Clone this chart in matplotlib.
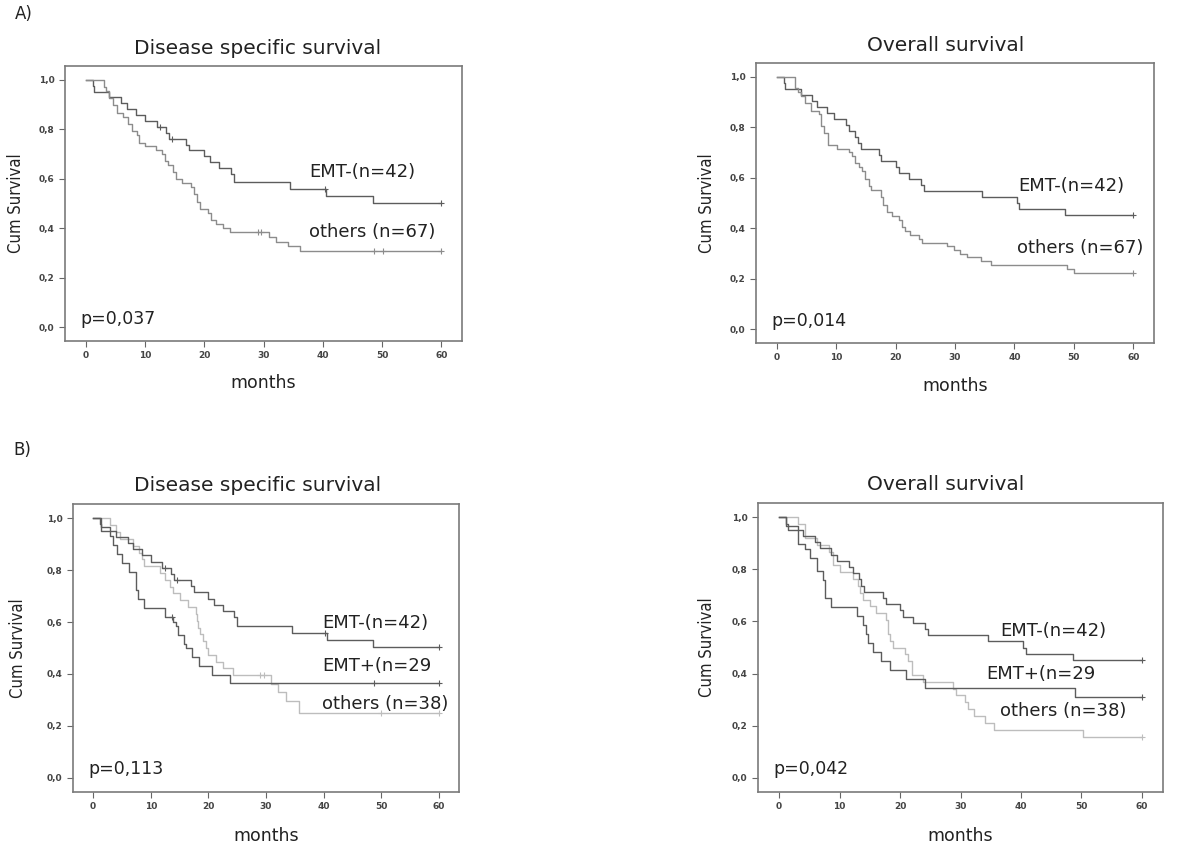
import matplotlib
matplotlib.use("Agg")
import matplotlib.pyplot as plt

plt.rcParams["font.family"] = ["DejaVu Sans"]

# ---- data (months, cumulative survival after each step) ----
# disease specific survival
dss_emtneg_t = [0, 1.2, 1.4, 4.0, 6.0, 7.0, 8.5, 10.0, 12.0, 13.5, 14.0, 17.0, 17.5, 20.0, 21.0, 22.5, 24.5, 25.0, 34.5, 40.6, 48.5]
dss_emtneg_s = [1.0, 0.976, 0.952, 0.929, 0.905, 0.881, 0.857, 0.833, 0.810, 0.786, 0.762, 0.738, 0.714, 0.690, 0.667, 0.643, 0.619, 0.585, 0.557, 0.530, 0.502]
dss_emtneg_cens = [12.5, 14.5, 40.3, 60]

dss_oth67_t = [0, 3.0, 3.5, 4.0, 4.6, 5.2, 6.3, 7.2, 7.8, 8.6, 9.0, 10.0, 11.9, 12.8, 13.3, 13.9, 14.7, 15.3, 16.2, 17.8, 18.2, 18.7, 19.2, 20.6, 21.2, 22.0, 23.2, 24.3, 31.0, 32.1, 34.1, 36.1]
dss_oth67_s = [1.0, 0.970, 0.955, 0.925, 0.896, 0.866, 0.851, 0.821, 0.791, 0.776, 0.746, 0.731, 0.716, 0.701, 0.672, 0.657, 0.627, 0.597, 0.582, 0.567, 0.537, 0.507, 0.478, 0.463, 0.433, 0.418, 0.403, 0.383, 0.365, 0.345, 0.327, 0.309]
dss_oth67_cens = [29.0, 29.6, 48.7, 50.1, 60]

dss_emtpos_t = [0, 1.3, 3.0, 3.4, 4.1, 5.0, 6.2, 7.4, 7.7, 8.9, 12.5, 13.9, 14.3, 14.8, 15.7, 16.2, 17.1, 18.3, 20.6, 23.7]
dss_emtpos_s = [1.0, 0.966, 0.931, 0.897, 0.862, 0.828, 0.793, 0.724, 0.690, 0.655, 0.621, 0.600, 0.583, 0.552, 0.517, 0.500, 0.466, 0.431, 0.397, 0.365]
dss_emtpos_cens = [13.6, 48.8, 60]

dss_oth38_t = [0, 3.0, 3.9, 4.7, 7.0, 7.9, 8.5, 8.9, 11.6, 12.5, 13.4, 13.9, 15.1, 16.5, 17.8, 18.0, 18.2, 18.5, 19.1, 19.5, 20.0, 21.4, 22.6, 24.3, 30.9, 32.1, 33.5, 35.8]
dss_oth38_s = [1.0, 0.974, 0.947, 0.921, 0.895, 0.868, 0.842, 0.816, 0.789, 0.763, 0.737, 0.711, 0.684, 0.658, 0.632, 0.605, 0.579, 0.553, 0.526, 0.500, 0.474, 0.447, 0.421, 0.395, 0.362, 0.329, 0.296, 0.250]
dss_oth38_cens = [29.0, 29.6, 50.0, 60]

# overall survival
os_emtneg_t = [0, 1.2, 1.4, 4.0, 5.9, 6.8, 8.5, 9.6, 11.6, 12.2, 13.2, 13.6, 14.1, 17.2, 17.6, 20.0, 20.5, 22.2, 24.2, 24.7, 34.5, 40.4, 40.8, 48.6]
os_emtneg_s = [1.0, 0.976, 0.952, 0.929, 0.905, 0.881, 0.857, 0.833, 0.810, 0.786, 0.762, 0.738, 0.714, 0.690, 0.667, 0.643, 0.619, 0.595, 0.571, 0.548, 0.524, 0.500, 0.476, 0.452]
os_emtneg_cens = [60]

os_oth67_t = [0, 3.1, 3.6, 4.0, 4.8, 5.7, 7.1, 7.5, 8.0, 8.6, 10.2, 12.2, 12.6, 13.2, 13.8, 14.4, 14.9, 15.5, 15.9, 17.5, 17.9, 18.6, 19.4, 20.5, 21.1, 21.6, 22.5, 24.0, 24.4, 28.7, 29.8, 30.9, 32.0, 34.3, 36.0, 48.9, 50.0]
os_oth67_s = [1.0, 0.955, 0.940, 0.925, 0.896, 0.866, 0.851, 0.806, 0.776, 0.731, 0.716, 0.701, 0.687, 0.657, 0.642, 0.627, 0.597, 0.567, 0.552, 0.522, 0.493, 0.463, 0.448, 0.433, 0.403, 0.388, 0.373, 0.358, 0.343, 0.328, 0.313, 0.298, 0.284, 0.269, 0.254, 0.239, 0.224]
os_oth67_cens = [60]

os_emtpos_t = [0, 1.2, 3.1, 4.2, 5.1, 6.2, 7.3, 7.6, 8.6, 12.8, 13.9, 14.3, 14.7, 15.5, 16.9, 18.3, 21.0, 24.1, 49.0]
os_emtpos_s = [1.0, 0.966, 0.897, 0.879, 0.845, 0.793, 0.759, 0.690, 0.655, 0.621, 0.586, 0.552, 0.517, 0.483, 0.448, 0.414, 0.379, 0.345, 0.310]
os_emtpos_cens = [60]

os_oth38_t = [0, 3.1, 4.2, 6.2, 8.3, 8.9, 10.0, 12.2, 13.1, 13.4, 13.9, 15.0, 16.1, 17.7, 18.0, 18.3, 18.8, 20.8, 21.3, 21.9, 23.8, 28.8, 29.3, 30.7, 31.2, 32.3, 34.0, 35.6, 50.2]
os_oth38_s = [1.0, 0.974, 0.921, 0.895, 0.868, 0.816, 0.789, 0.763, 0.737, 0.711, 0.684, 0.658, 0.632, 0.605, 0.553, 0.526, 0.500, 0.474, 0.447, 0.395, 0.368, 0.342, 0.316, 0.289, 0.263, 0.237, 0.211, 0.184, 0.158]
os_oth38_cens = [60]

x_ticks = [0, 10, 20, 30, 40, 50, 60]
y_ticks = [0.0, 0.2, 0.4, 0.6, 0.8, 1.0]
y_tick_labels = ["0,0", "0,2", "0,4", "0,6", "0,8", "1,0"]

DARK = "#5c5c5c"
MID = "#8c8c8c"
LIGHT = "#bdbdbd"
TXT = "#222222"


def km(ax, t, s, cens, color):
    tt = list(t) + [60]
    ss = list(s) + [s[-1]]
    ax.step(tt, ss, where="post", color=color, lw=1.0)
    # censor marks sit on the curve
    cy = []
    for c in cens:
        v = s[0]
        for ti, si in zip(t, s):
            if ti <= c:
                v = si
        cy.append(v)
    ax.plot(cens, cy, ls="none", marker="+", ms=4, mew=0.8, color=color)


def setup(ax, title, title_x, pval, ylab_x):
    ax.set_xlim(-3.5, 63.5)
    ax.set_ylim(-0.055, 1.055)
    ax.set_xticks(x_ticks)
    ax.set_xticklabels([str(v) for v in x_ticks])
    ax.set_yticks(y_ticks)
    ax.set_yticklabels(y_tick_labels)
    ax.tick_params(direction="out", length=4, width=0.8, color="#666666",
                   labelsize=6.5, labelcolor="#444444")
    for lab in ax.get_xticklabels() + ax.get_yticklabels():
        lab.set_fontweight("bold")
    for sp in ax.spines.values():
        sp.set_color("#7a7a7a")
        sp.set_linewidth(1.2)
    ax.set_title(title, fontsize=14.5, color=TXT, pad=9, x=title_x)
    ax.set_ylabel("Cum Survival", fontsize=12, color=TXT,
                  family=["DejaVu Sans"], fontstretch="condensed")
    ax.yaxis.set_label_coords(ylab_x, 0.5)
    ax.set_xlabel("months", fontsize=12.5, color=TXT)
    ax.xaxis.set_label_coords(0.5, -0.12)
    ax.text(-0.9, 0.032, pval, fontsize=12.5, color=TXT, va="center")


fig = plt.figure(figsize=(12, 8.43), dpi=100)
W, H = 1200, 843


def axes_px(x0, y0, x1, y1):
    return fig.add_axes([x0 / W, 1 - y1 / H, (x1 - x0) / W, (y1 - y0) / H])


# A) DSS
ax = axes_px(65, 66, 462, 341)
km(ax, dss_emtneg_t, dss_emtneg_s, dss_emtneg_cens, DARK)
km(ax, dss_oth67_t, dss_oth67_s, dss_oth67_cens, MID)
setup(ax, "Disease specific survival", 0.486, "p=0,037", -0.1)
ax.text(37.8, 0.627, "EMT-(n=42)", fontsize=13, va="center", color=TXT)
ax.text(37.6, 0.386, "others (n=67)", fontsize=13, va="center", color=TXT)

# A) OS
ax = axes_px(756, 63, 1154, 343)
km(ax, os_emtneg_t, os_emtneg_s, os_emtneg_cens, DARK)
km(ax, os_oth67_t, os_oth67_s, os_oth67_cens, MID)
setup(ax, "Overall survival", 0.477, "p=0,014", -0.1)
ax.text(40.7, 0.567, "EMT-(n=42)", fontsize=13, va="center", color=TXT)
ax.text(40.5, 0.32, "others (n=67)", fontsize=13, va="center", color=TXT)

# B) DSS
ax = axes_px(73, 504, 459, 792)
km(ax, dss_oth38_t, dss_oth38_s, dss_oth38_cens, LIGHT)
km(ax, dss_emtpos_t, dss_emtpos_s, dss_emtpos_cens, DARK)
km(ax, dss_emtneg_t, dss_emtneg_s, dss_emtneg_cens, DARK)
setup(ax, "Disease specific survival", 0.479, "p=0,113", -0.12)
ax.text(39.8, 0.598, "EMT-(n=42)", fontsize=13, va="center", color=TXT)
ax.text(39.8, 0.429, "EMT+(n=29", fontsize=13, va="center", color=TXT)
ax.text(39.8, 0.286, "others (n=38)", fontsize=13, va="center", color=TXT)

# B) OS
ax = axes_px(758, 503, 1163, 792)
km(ax, os_oth38_t, os_oth38_s, os_oth38_cens, LIGHT)
km(ax, os_emtpos_t, os_emtpos_s, os_emtpos_cens, DARK)
km(ax, os_emtneg_t, os_emtneg_s, os_emtneg_cens, DARK)
setup(ax, "Overall survival", 0.464, "p=0,042", -0.104)
ax.text(36.6, 0.564, "EMT-(n=42)", fontsize=13, va="center", color=TXT)
ax.text(34.3, 0.40, "EMT+(n=29", fontsize=13, va="center", color=TXT)
ax.text(36.6, 0.256, "others (n=38)", fontsize=13, va="center", color=TXT)

fig.text(15 / W, 1 - 14 / H, "A)", fontsize=12, color=TXT, va="center")
fig.text(13 / W, 1 - 450 / H, "B)", fontsize=12, color=TXT, va="center")

fig.savefig("out.png", dpi=100)
